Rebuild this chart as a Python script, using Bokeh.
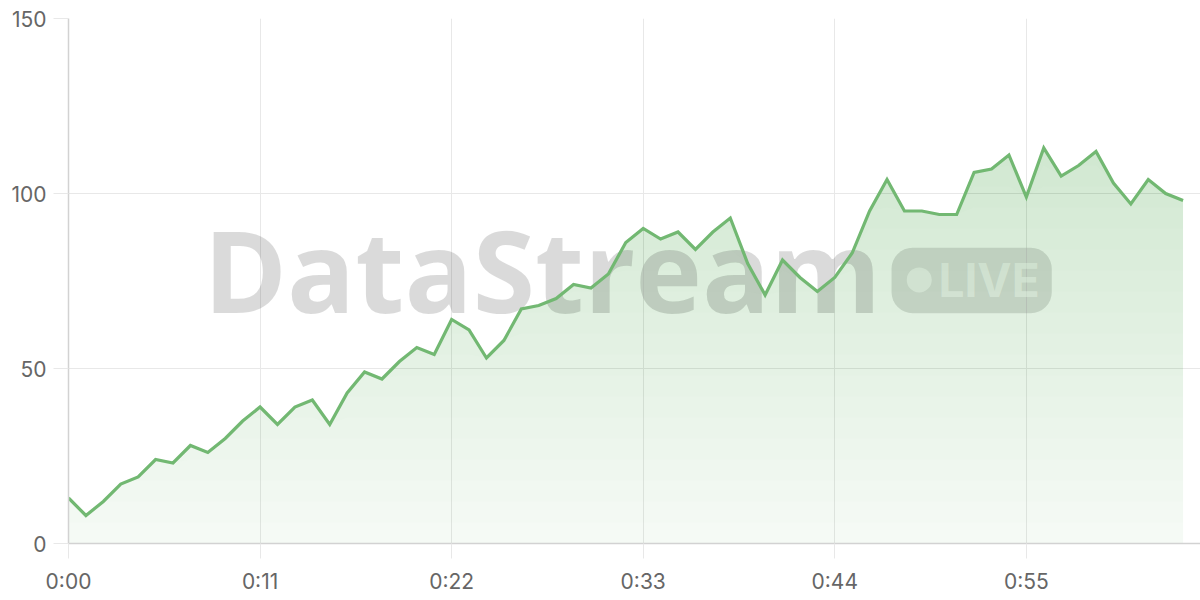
import numpy as np
from bokeh.plotting import figure
from bokeh.models import Range1d, FixedTicker, Label, BoxAnnotation
from bokeh.embed import file_html
from bokeh.resources import INLINE

# ---- data ----
seconds = list(range(65))
values = [13, 8, 12, 17, 19, 24, 23, 28, 26, 30, 35, 39, 34, 39, 41, 34, 43, 49, 47, 52,
          56, 54, 64, 61, 53, 58, 67, 68, 70, 74, 73, 77, 86, 90, 87, 89, 84, 89, 93, 80,
          71, 81, 76, 72, 76, 83, 95, 104, 95, 95, 94, 94, 106, 107, 111, 99, 113, 105, 108,
          112, 103, 97, 104, 100, 98]
x_ticks = [0, 11, 22, 33, 44, 55]
x_tick_labels = ["0:00", "0:11", "0:22", "0:33", "0:44", "0:55"]
y_ticks = [0, 50, 100, 150]

GREEN = "#72b872"
GRID = "#e8e8e8"
AXIS = "#d2d2d2"
LABEL = "#666666"
FONT = "Inter"

p = figure(width=1200, height=600, x_range=Range1d(0, 65), y_range=Range1d(0, 150),
           output_backend="svg", toolbar_location=None,
           min_border_left=68, min_border_right=0, min_border_top=18, min_border_bottom=57)
p.outline_line_color = None
p.background_fill_color = "white"
p.border_fill_color = "white"

# pixel -> data helpers for the watermark placement (frame: 1132 x 524 px)
PX_X = 65 / 1132
PX_Y = 150 / 524

# ---- watermark (under the data) ----
wm = Label(x=7.75, y=78.3, text="DataStream", text_font="Open Sans", text_font_style="bold",
           text_font_size="113px", text_color="#000000", text_alpha=0.145,
           text_align="left", text_baseline="alphabetic", level="underlay")
p.add_layout(wm)
pill = BoxAnnotation(left=47.26, right=56.46, bottom=65.8, top=84.5,
                     fill_color="#000000", fill_alpha=0.12, line_alpha=0,
                     border_radius=21, level="underlay")
p.add_layout(pill)
dot_cx, dot_cy, dot_r = 48.85, 75.3, 12.5
dot = BoxAnnotation(left=dot_cx - dot_r * PX_X, right=dot_cx + dot_r * PX_X,
                    bottom=dot_cy - dot_r * PX_Y, top=dot_cy + dot_r * PX_Y,
                    fill_color="white", fill_alpha=0.6, line_alpha=0,
                    border_radius=13, level="underlay")
p.add_layout(dot)
live = Label(x=49.95, y=75.2, text="LIVE", text_font=FONT, text_font_style="bold",
             text_font_size="46px", text_color="white", text_alpha=0.6,
             text_align="left", text_baseline="alphabetic", level="underlay")
p.add_layout(live)

# ---- gradient area fill (layered translucent areas, alpha in 1/255 steps) ----
v = np.array(values, dtype=float)
p.varea(x=seconds, y1=np.zeros_like(v), y2=v, fill_color=GREEN, fill_alpha=18 / 255)
for lo in np.linspace(6, 108, 18):
    p.varea(x=seconds, y1=np.minimum(lo, v), y2=v, fill_color=GREEN, fill_alpha=4 / 255)

# ---- line ----
p.line(seconds, values, line_color=GREEN, line_width=3.2, line_join="miter")

# ---- axes & grid ----
p.xaxis.ticker = FixedTicker(ticks=x_ticks)
p.xaxis.major_label_overrides = {t: l for t, l in zip(x_ticks, x_tick_labels)}
p.yaxis.ticker = FixedTicker(ticks=y_ticks)
for ax in (p.xaxis, p.yaxis):
    ax.axis_line_color = AXIS
    ax.axis_line_width = 1.5
    ax.major_tick_line_color = GRID
    ax.major_tick_out = 15
    ax.major_tick_in = 0
    ax.minor_tick_line_color = None
    ax.major_label_text_font = FONT
    ax.major_label_text_font_size = "21px"
    ax.major_label_text_color = LABEL
p.xaxis.major_label_standoff = 10
p.yaxis.major_label_standoff = 7

p.xgrid.ticker = FixedTicker(ticks=x_ticks)
p.ygrid.ticker = FixedTicker(ticks=y_ticks)
p.grid.grid_line_color = GRID
p.grid.grid_line_width = 1

open("out.html", "w").write(file_html(p, INLINE))
